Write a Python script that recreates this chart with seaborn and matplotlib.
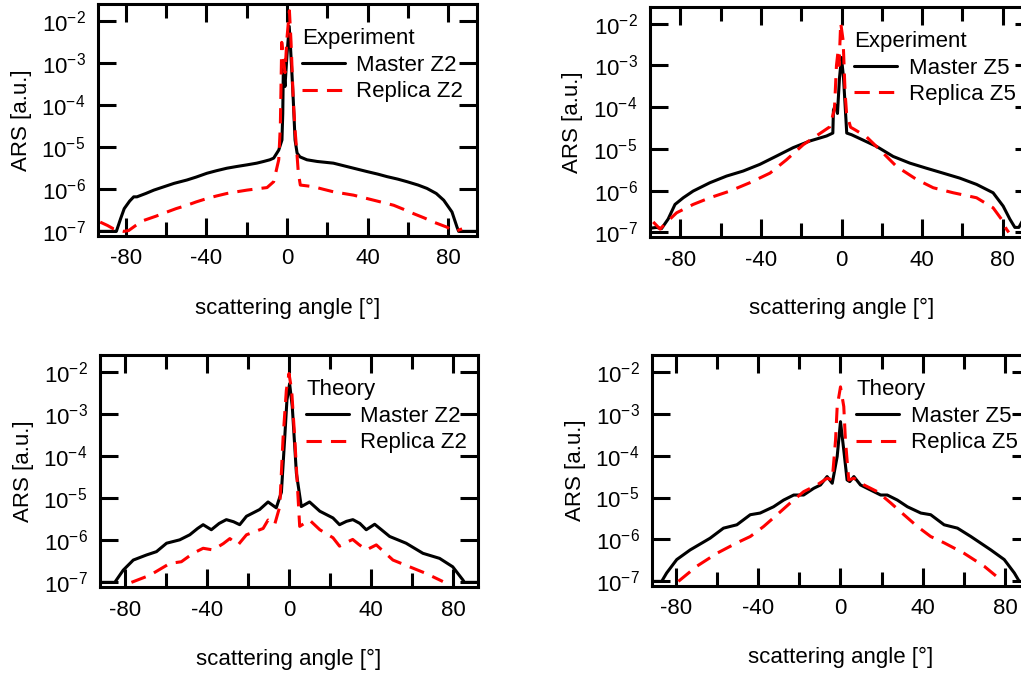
import numpy as np
import pandas as pd
import matplotlib
matplotlib.use("Agg")
import matplotlib.pyplot as plt
import seaborn as sns
from matplotlib.ticker import LogLocator, LogFormatterSciNotation, MultipleLocator, NullLocator

# angles in degrees, ARS as log10 values
exp_m2_ang = [-94.5, -84.6, -82.5, -80.7, -78, -76, -74.4, -70, -66, -61, -56, -49.6, -45, -39.7, -35, -29.8,
              -25, -19.8, -15, -11.6, -8.5, -6.6, -4.1, -2.5, -2.1, -1.8, -1.0, 0.0, 1.1, 1.8, 2.5, 3.1, 4.0,
              5.0, 6.4, 9.9, 15, 23, 28, 33, 39.7, 45, 49.6, 55, 59.5, 65, 69.4, 74, 77.7, 81.8, 84.3, 85.1, 95]
exp_m2_lg = [-7, -7, -6.7, -6.46, -6.28, -6.18, -6.18, -6.1, -6.02, -5.94, -5.86, -5.78, -5.71, -5.62, -5.56,
             -5.50, -5.46, -5.42, -5.38, -5.34, -5.30, -5.26, -5.07, -4.83, -4.2, -3.09, -3.56, -2.8, -2.13,
             -2.68, -3.3, -3.87, -4.83, -5.14, -5.23, -5.30, -5.34, -5.38, -5.44, -5.50, -5.58, -5.64, -5.70,
             -5.76, -5.82, -5.9, -5.98, -6.1, -6.26, -6.54, -6.90, -7.0, -7.0]

exp_r2_ang = [-92.6, -89, -86, -81, -78.5, -75, -71, -65, -59.5, -55, -49.6, -45, -39.7, -35, -29.8, -25,
              -19.8, -15, -9.9, -6.6, -4.1, -3.3, -2.6, -1.8, -1.0, 0.0, 1.2, 2.0, 3.1, 4.0, 4.8, 5.6, 6.6,
              10, 13.2, 18, 23, 28, 33, 38, 43, 48, 52.9, 58, 62.8, 68, 72.7, 76, 79.3, 82.6, 84.5, 86.8]
exp_r2_lg = [-6.78, -6.86, -6.94, -7.0, -6.98, -6.86, -6.74, -6.64, -6.54, -6.46, -6.38, -6.30, -6.22, -6.16,
             -6.10, -6.06, -6.02, -5.99, -5.96, -5.82, -5.30, -4.5, -2.51, -2.9, -3.23, -2.4, -1.76, -2.5,
             -3.87, -4.6, -5.07, -5.6, -5.90, -5.92, -5.94, -6.0, -6.06, -6.10, -6.14, -6.20, -6.26, -6.32,
             -6.38, -6.48, -6.58, -6.68, -6.78, -6.84, -6.90, -7.0, -6.98, -6.94]

exp_m5_ang = [-95, -91.7, -89.3, -86, -82.6, -78.5, -73.6, -65.3, -57, -48.8, -40.5, -32.2, -24, -15.7,
              -7.4, -4.3, -4.0, -3.0, -2.0, -1.0, 0.0, 1.0, 2.6, 5, 9, 17.4, 25.6, 33.9, 42, 50.4, 58.7,
              67, 75.2, 80.2, 83.5, 86, 88, 90, 95]
exp_m5_lg = [-6.9, -6.88, -6.91, -6.68, -6.33, -6.17, -6.01, -5.81, -5.65, -5.53, -5.37, -5.17, -4.97, -4.81,
             -4.69, -4.62, -4.07, -3.95, -4.15, -3.3, -2.81, -3.3, -4.62, -4.66, -4.75, -4.94, -5.18, -5.34,
             -5.46, -5.58, -5.70, -5.85, -6.05, -6.37, -6.68, -6.88, -6.88, -6.7, -6.5]

exp_r5_ang = [-93.4, -90, -86.8, -81.8, -73.6, -65.3, -55.4, -45.5, -35.5, -27.3, -19, -10.7, -5.8, -3.5,
              -2.5, -1.8, -1.2, -0.4, 0.8, 1.8, 2.5, 4.5, 7, 12.4, 19, 27.3, 37.2, 45.5, 55.4, 67, 75.2,
              79.3, 81.8, 83]
exp_r5_lg = [-6.75, -6.92, -6.76, -6.53, -6.33, -6.17, -6.01, -5.81, -5.58, -5.26, -4.90, -4.63, -4.47, -4.05,
             -3.0, -2.7, -3.0, -1.98, -2.4, -3.67, -4.14, -4.48, -4.55, -4.71, -5.02, -5.42, -5.73, -5.93,
             -6.05, -6.17, -6.41, -6.68, -6.92, -7.0]

th_m2_ang = [-94.5, -84.8, -80.7, -75.8, -69.4, -64.5, -59.6, -53.2, -48.3, -44.5, -41.8, -37.8, -34, -30.5,
             -27, -24, -20.7, -14.3, -10.2, -6.2, -3.7, -2.1, -1.0, 0.3, 1.6, 3.6, 6.0, 10, 15, 21.4, 24.6,
             28, 31.1, 34.5, 37.6, 41.7, 45, 49, 57, 65.2, 73.3, 79.7, 84.6, 85.4, 95]
th_m2_lg = [-7, -7, -6.71, -6.47, -6.35, -6.27, -6.07, -5.99, -5.87, -5.72, -5.63, -5.75, -5.6, -5.51, -5.56,
            -5.63, -5.43, -5.27, -5.09, -5.23, -4.86, -3.58, -2.67, -2.28, -2.83, -4.41, -5.20, -5.09, -5.31,
            -5.47, -5.63, -5.55, -5.51, -5.6, -5.75, -5.62, -5.75, -5.91, -6.07, -6.31, -6.43, -6.63, -6.94,
            -7, -7]

th_r2_ang = [-76.7, -67.7, -58, -52.4, -46.7, -41.8, -37, -32, -28.8, -24.8, -20.7, -12.6, -10.2, -7, -4.5,
             -2.9, -1.3, 0, 1.3, 2.8, 5.2, 10, 15, 21.4, 24.6, 28, 31, 34, 37.6, 42.5, 50.6, 58.7, 66.8, 74.9]
th_r2_lg = [-7, -6.83, -6.55, -6.51, -6.31, -6.19, -6.23, -6.08, -5.96, -6.11, -5.87, -5.72, -5.52, -5.63,
            -5.20, -3.58, -2.44, -2.04, -2.44, -3.58, -5.67, -5.52, -5.75, -5.94, -6.14, -6.05, -5.98, -6.1,
            -6.23, -6.11, -6.47, -6.63, -6.79, -6.98]

th_m5_ang = [-94.5, -86.8, -84.4, -79.5, -73, -63.3, -56.8, -50.3, -43.8, -39, -32.5, -27.6, -22.7, -17.9,
             -13, -9.7, -6.5, -4, -1.6, 0, 1.6, 3.2, 4.5, 6.5, 9.7, 14.6, 19.5, 22.7, 27.6, 32.5, 39, 43.8,
             50.3, 56.8, 63.3, 73, 79.5, 84.4, 86.8, 95]
th_m5_lg = [-7, -7, -6.80, -6.48, -6.25, -5.97, -5.73, -5.65, -5.41, -5.37, -5.22, -5.06, -4.94, -4.94, -4.78,
            -4.70, -4.50, -4.66, -4.02, -3.19, -3.87, -4.58, -4.62, -4.50, -4.70, -4.82, -4.94, -4.94, -5.06,
            -5.22, -5.37, -5.41, -5.65, -5.73, -5.93, -6.25, -6.48, -6.80, -7, -7]

th_r5_ang = [-78.7, -69.8, -60, -50.3, -43.8, -37.3, -30.8, -24.4, -17.9, -11.4, -6.5, -4, -2.4, -1.6, 0,
             1.6, 2.4, 4, 6.5, 11.4, 17.9, 24.4, 30.8, 37.3, 43.8, 50.3, 60, 69.8, 78.7]
th_r5_lg = [-7, -6.64, -6.33, -6.08, -5.93, -5.69, -5.41, -5.13, -4.86, -4.70, -4.54, -4.58, -3.63, -2.83,
            -2.36, -2.83, -3.63, -4.58, -4.54, -4.70, -4.86, -5.13, -5.41, -5.69, -5.93, -6.08, -6.33, -6.64, -7]

titles = ["Experiment", "Experiment", "Theory", "Theory"]
master_labels = ["Master Z2", "Master Z5", "Master Z2", "Master Z5"]
replica_labels = ["Replica Z2", "Replica Z5", "Replica Z2", "Replica Z5"]
xlims = [(-93.7, 94.2), (-95, 95), (-92, 92), (-91.5, 92)]

sns.set_style("ticks")
plt.rcParams['font.family'] = ['Liberation Sans', 'DejaVu Sans']
plt.rcParams['mathtext.fontset'] = 'custom'
plt.rcParams['mathtext.rm'] = 'Liberation Sans'
plt.rcParams['mathtext.it'] = 'Liberation Sans:italic'
plt.rcParams['mathtext.bf'] = 'Liberation Sans:bold'
plt.rcParams['axes.unicode_minus'] = False
for k in ['text.color', 'axes.labelcolor', 'xtick.color', 'ytick.color', 'axes.edgecolor']:
    plt.rcParams[k] = 'black'

fig = plt.figure(figsize=(10.21, 6.73), dpi=100)
W, H = 1021, 673
boxes = [(98, 4, 379, 232), (650, 7, 383, 230), (100, 355, 378, 232), (652, 355, 378, 231)]
leg_x = [0.538, 0.533, 0.545, 0.54]

series = [(exp_m2_ang, exp_m2_lg, exp_r2_ang, exp_r2_lg),
          (exp_m5_ang, exp_m5_lg, exp_r5_ang, exp_r5_lg),
          (th_m2_ang, th_m2_lg, th_r2_ang, th_r2_lg),
          (th_m5_ang, th_m5_lg, th_r5_ang, th_r5_lg)]

for i, (x0, y0, w, h) in enumerate(boxes):
    ax = fig.add_axes([x0 / W, 1 - (y0 + h) / H, w / W, h / H])
    ma, ml, ra, rl = series[i]
    dm = pd.DataFrame({"angle": ma, "ars": 10.0 ** np.array(ml)})
    dr = pd.DataFrame({"angle": ra, "ars": 10.0 ** np.array(rl)})
    sns.lineplot(data=dm, x="angle", y="ars", ax=ax, color="black", lw=2.2,
                 estimator=None, label=master_labels[i])
    sns.lineplot(data=dr, x="angle", y="ars", ax=ax, color="#ff0000", lw=2.2,
                 linestyle=(0, (5, 3)), estimator=None, label=replica_labels[i])
    ax.set_yscale("log")
    ax.set_xlim(*xlims[i])
    ax.set_ylim(10 ** -7.11, 10 ** -1.6)
    ax.xaxis.set_major_locator(MultipleLocator(40))
    ax.xaxis.set_minor_locator(MultipleLocator(20))
    ax.yaxis.set_major_locator(LogLocator(base=10, numticks=12))
    ax.yaxis.set_major_formatter(LogFormatterSciNotation())
    ax.yaxis.set_minor_locator(NullLocator())
    for s in ax.spines.values():
        s.set_linewidth(2.2)
        s.set_visible(True)
    ax.tick_params(which="both", direction="in", top=True, right=True, width=2.2, labelsize=16)
    ax.tick_params(which="major", length=13, pad=9)
    ax.tick_params(which="minor", length=10)
    ax.set_xlabel("scattering angle [°]", fontsize=16)
    ax.set_ylabel("ARS [a.u.]", fontsize=16)
    ax.xaxis.set_label_coords(0.5, -0.265)
    ax.yaxis.set_label_coords(-0.175, 0.5)
    ax.legend(title=titles[i], loc="upper left", bbox_to_anchor=(leg_x[i], 0.895),
              frameon=False, fontsize=16, title_fontsize=16, alignment="left",
              borderpad=0, borderaxespad=0, handlelength=1.95, handletextpad=0.5,
              labelspacing=0.25)

fig.savefig("out.png", dpi=100)
